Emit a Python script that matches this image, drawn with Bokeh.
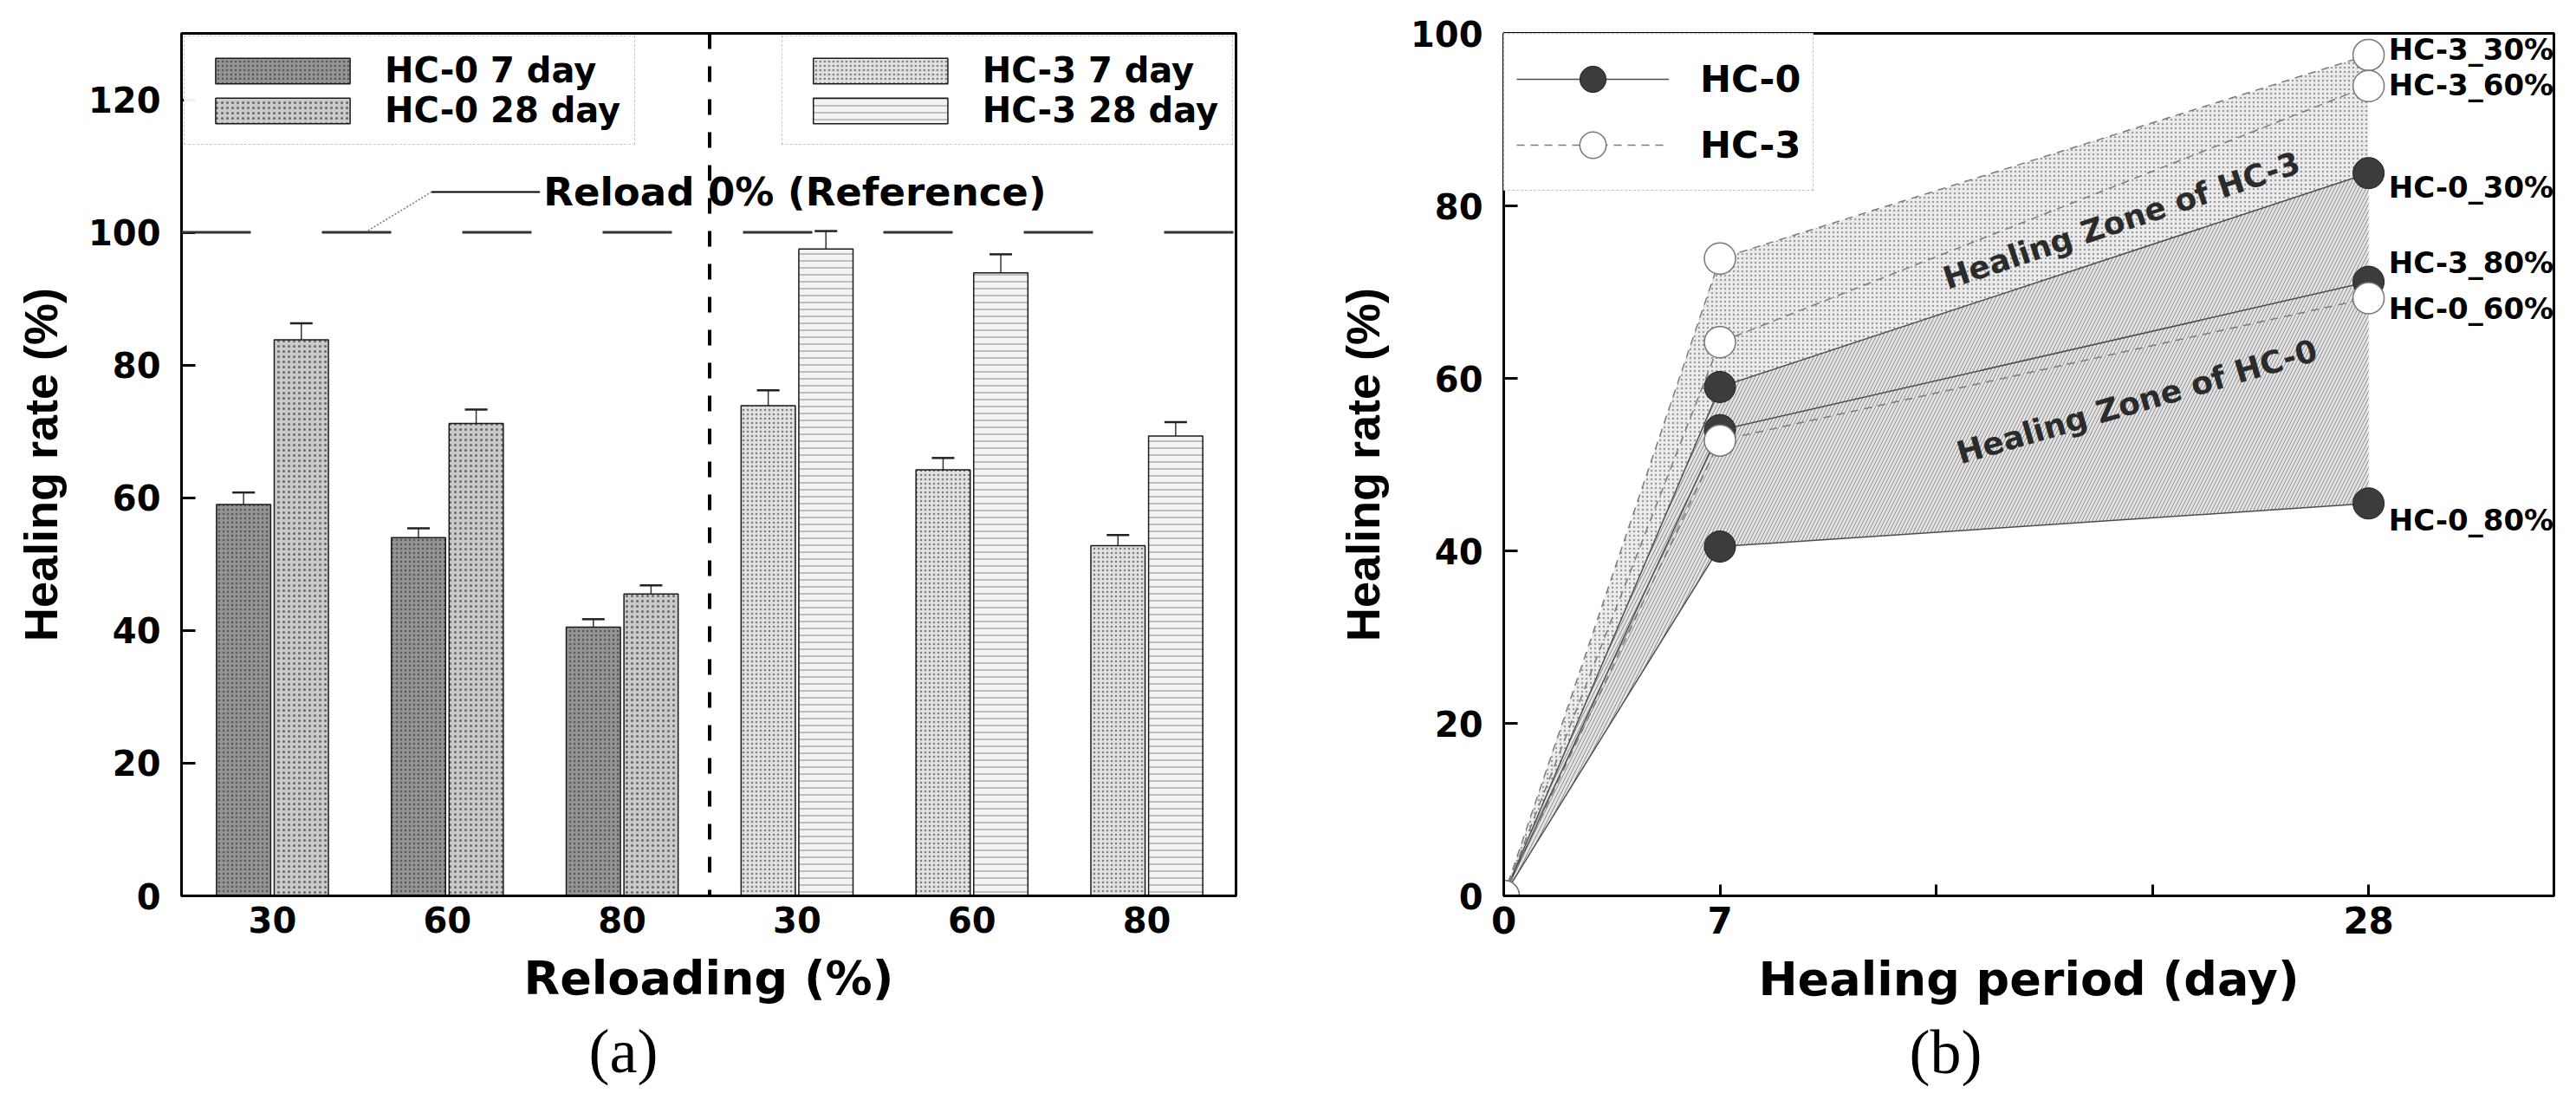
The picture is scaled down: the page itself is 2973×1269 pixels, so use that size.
"""
Healing rate of HC-0 / HC-3 specimens.

(a) grouped bars of the healing rate per reloading level after 7 and 28 days,
(b) healing rate against the healing period with the two healing zones.
"""

import numpy as np
from bokeh.core.properties import value
from bokeh.embed import file_html
from bokeh.layouts import row
from bokeh.models import (ColumnDataSource, FixedTicker, Label, Legend, LegendItem,
                          Range1d, Span, TeeHead, Title, Whisker)
from bokeh.plotting import figure
from bokeh.resources import INLINE

# ---- data -----------------------------------------------------------------
reloading = ["30", "60", "80"]
hc0_7day = [59.0, 54.0, 40.5]
hc0_28day = [83.8, 71.2, 45.5]
hc3_7day = [73.9, 64.2, 52.8]
hc3_28day = [97.5, 93.9, 69.3]
hc0_7day_err = [1.8, 1.4, 1.2]
hc0_28day_err = [2.5, 2.1, 1.3]
hc3_7day_err = [2.3, 1.8, 1.6]
hc3_28day_err = [2.7, 2.8, 2.1]
reference_rate = 100

period_days = [0, 7, 28]
period_ticks = [0, 7, 14, 21, 28]
period_tick_labels = {0: "0", 7: "7", 14: "", 21: "", 28: "28"}

end_labels = ["HC-3_30%", "HC-3_60%", "HC-0_30%", "HC-3_80%", "HC-0_60%", "HC-0_80%"]
end_label_y = [98.1, 94.0, 82.2, 73.4, 68.1, 43.6]

FONT = "DejaVu Sans"


def style_axes(p, y_label_font="Liberation Sans"):
    """Bold fonts, inward ticks, thick frame."""
    p.xgrid.visible = False
    p.ygrid.visible = False
    p.outline_line_color = "black"
    p.outline_line_width = 3
    for ax in p.axis:
        ax.axis_line_width = 3
        ax.major_tick_line_width = 3
        ax.major_tick_out = 0
        ax.minor_tick_line_color = None
        ax.major_label_text_font = FONT
        ax.major_label_text_font_style = "bold"
        ax.major_label_text_color = "black"
        ax.axis_label_text_font_style = "bold"
        ax.axis_label_text_color = "black"
        ax.axis_label_text_font_size = "54px"
    p.xaxis.axis_label_text_font = FONT
    p.yaxis.axis_label_text_font = y_label_font
    p.yaxis.major_label_text_font_size = "40px"
    p.yaxis.major_tick_in = 16
    p.yaxis.major_label_standoff = 24
    p.yaxis.axis_label_standoff = 22
    p.xaxis.major_label_standoff = 12
    p.xaxis.axis_label_standoff = 18


def panel_tag(p, text, offset):
    """(a) / (b) caption under the x axis label."""
    p.add_layout(Title(text=text, align="left", offset=offset, standoff=16,
                       text_font="Liberation Serif", text_font_style="normal",
                       text_font_size="72px", text_color="black"), "below")


def bar_chart():
    p = figure(width=1508, height=1261, title=None,
               x_range=Range1d(0.48, 6.51), y_range=Range1d(0, 130),
               min_border_left=209, min_border_right=82, min_border_top=38, min_border_bottom=227,
               output_backend="svg", toolbar_location=None)

    pos = np.arange(1, len(reloading) + 1)
    series = [
        ("HC-0 7 day", pos - 0.165, hc0_7day, hc0_7day_err,
         dict(fill_color="#939393", hatch_pattern="dot", hatch_color="#555555", hatch_scale=5)),
        ("HC-0 28 day", pos + 0.165, hc0_28day, hc0_28day_err,
         dict(fill_color="#cacaca", hatch_pattern="dot", hatch_color="#656565", hatch_scale=6)),
        ("HC-3 7 day", pos + 3 - 0.165, hc3_7day, hc3_7day_err,
         dict(fill_color="#e0e0e0", hatch_pattern="dot", hatch_color="#7a7a7a", hatch_scale=5)),
        ("HC-3 28 day", pos + 3 + 0.165, hc3_28day, hc3_28day_err,
         dict(fill_color="#f3f3f3", hatch_pattern="horizontal_line", hatch_color="#8a8a8a", hatch_scale=8)),
    ]
    bars = {}
    for name, x, top, err, style in series:
        src = ColumnDataSource(dict(x=x, top=top,
                                    upper=np.add(top, err), lower=np.subtract(top, err)))
        bars[name] = p.vbar(x="x", top="top", width=0.31, source=src,
                            line_color="#1a1a1a", line_width=1.5, hatch_weight=1, **style)
        p.add_layout(Whisker(base="x", upper="upper", lower="lower", source=src,
                             line_color="#333333", line_width=1.5,
                             upper_head=TeeHead(size=26, line_color="#222222", line_width=2.5),
                             lower_head=TeeHead(size=26, line_color="#222222", line_width=2.5)))

    # reference level and the HC-0 / HC-3 divider
    p.add_layout(Span(location=reference_rate, dimension="width", line_color="#333333",
                      line_width=3, line_dash="80 82"))
    p.add_layout(Span(location=len(reloading) + 0.5, dimension="height", line_color="black",
                      line_width=4, line_dash="18 20"))

    # leader from the reference line to its label
    p.line([1.53, 1.91], [reference_rate, reference_rate + 6.1], line_color="#777777",
           line_width=1.5, line_dash="2 2")
    p.line([1.91, 2.53], [reference_rate + 6.1] * 2, line_color="black", line_width=2)
    p.add_layout(Label(x=2.55, y=reference_rate + 6.1, text="Reload 0% (Reference)",
                       text_baseline="middle", text_font=FONT, text_font_style="bold",
                       text_font_size="45px", text_color="black"))

    for names, loc in ((["HC-0 7 day", "HC-0 28 day"], "top_left"),
                       (["HC-3 7 day", "HC-3 28 day"], "top_right")):
        p.add_layout(Legend(items=[LegendItem(label=n, renderers=[bars[n]]) for n in names],
                            location=loc, margin=3, padding=16, spacing=0,
                            glyph_width=194, glyph_height=37, label_standoff=21,
                            label_text_font=FONT, label_text_font_style="bold",
                            label_text_font_size="40px", label_text_color="black",
                            border_line_color="#8c8c8c", border_line_width=1.5,
                            border_line_dash="2 2", background_fill_color="white"))

    p.xaxis.ticker = FixedTicker(ticks=list(range(1, 2 * len(reloading) + 1)))
    p.xaxis.major_label_overrides = {i + 1: lab for i, lab in enumerate(reloading * 2)}
    p.yaxis.ticker = FixedTicker(ticks=list(range(0, 121, 20)))
    p.xaxis.axis_label = "Reloading (%)"
    p.yaxis.axis_label = "Healing rate (%)"
    style_axes(p)
    p.xaxis.major_tick_line_color = None
    p.xaxis.major_label_text_font_size = "40px"
    panel_tag(p, "(a)", 470)
    return p


def period_chart():
    p = figure(width=1457, height=1261, title=None,
               x_range=Range1d(0, 34), y_range=Range1d(0, 100),
               min_border_left=227, min_border_right=18, min_border_top=38, min_border_bottom=222,
               output_backend="svg", toolbar_location=None)

    hc0 = [[0, a, b] for a, b in zip(hc0_7day, hc0_28day)]
    hc3 = [[0, a, b] for a, b in zip(hc3_7day, hc3_28day)]
    zone_x = period_days + period_days[::-1]

    p.patch(zone_x, hc3[0] + hc3[-1][::-1], fill_color="#ececec", hatch_pattern="dot",
            hatch_color="#9a9a9a", hatch_scale=5, line_color=None)
    p.patch(zone_x, hc0[0] + hc0[-1][::-1], fill_color="#e4e4e4",
            hatch_pattern="right_diagonal_line", hatch_color="#8a8a8a", hatch_scale=8,
            hatch_weight=1, line_color=None)

    l0 = [p.line(period_days, ys, line_color="#4d4d4d", line_width=1.5) for ys in hc0]
    l3 = [p.line(period_days, ys, line_color="#7a7a7a", line_width=1.5, line_dash="9 7")
          for ys in hc3]

    s0 = p.scatter(period_days * 3, sum(hc0, []), size=36, marker="circle",
                   fill_color="#3c3c3c", line_color="#1f1f1f", line_width=1)
    s3 = p.scatter(period_days * 3, sum(hc3, []), size=36, marker="circle",
                   fill_color="white", line_color="#777777", line_width=1.5)

    p.text(x=[28.65] * len(end_labels), y=end_label_y, text=end_labels,
           text_font=value(FONT), text_font_style="bold", text_font_size="34px",
           text_baseline="middle", text_align="left", text_color="black")

    p.add_layout(Label(x=20.0, y=78.3, text="Healing Zone of HC-3", angle=0.32,
                       text_align="center", text_baseline="middle", text_font=FONT,
                       text_font_style="bold", text_font_size="36px", text_color="#2b2b2b"))
    p.add_layout(Label(x=20.5, y=57.3, text="Healing Zone of HC-0", angle=0.283,
                       text_align="center", text_baseline="middle", text_font=FONT,
                       text_font_style="bold", text_font_size="36px", text_color="#2b2b2b"))

    p.add_layout(Legend(items=[LegendItem(label="HC-0", renderers=[l0[0], s0]),
                               LegendItem(label="HC-3", renderers=[l3[0], s3])],
                        location="top_left", margin=0, padding=14, spacing=-20,
                        glyph_width=176, glyph_height=76, label_standoff=36,
                        label_text_font=FONT, label_text_font_style="bold",
                        label_text_font_size="43px", label_text_color="black",
                        border_line_color="#8c8c8c", border_line_width=1.5,
                        border_line_dash="2 2", background_fill_color="white"))

    p.xaxis.ticker = FixedTicker(ticks=period_ticks)
    p.xaxis.major_label_overrides = period_tick_labels
    p.yaxis.ticker = FixedTicker(ticks=list(range(0, 101, 20)))
    p.xaxis.axis_label = "Healing period (day)"
    p.yaxis.axis_label = "Healing rate (%)"
    style_axes(p)
    p.xaxis.major_tick_in = 13
    p.xaxis.major_label_text_font_size = "42px"
    panel_tag(p, "(b)", 468)
    return p


layout = row(bar_chart(), period_chart())
open("out.html", "w").write(file_html(layout, INLINE))
